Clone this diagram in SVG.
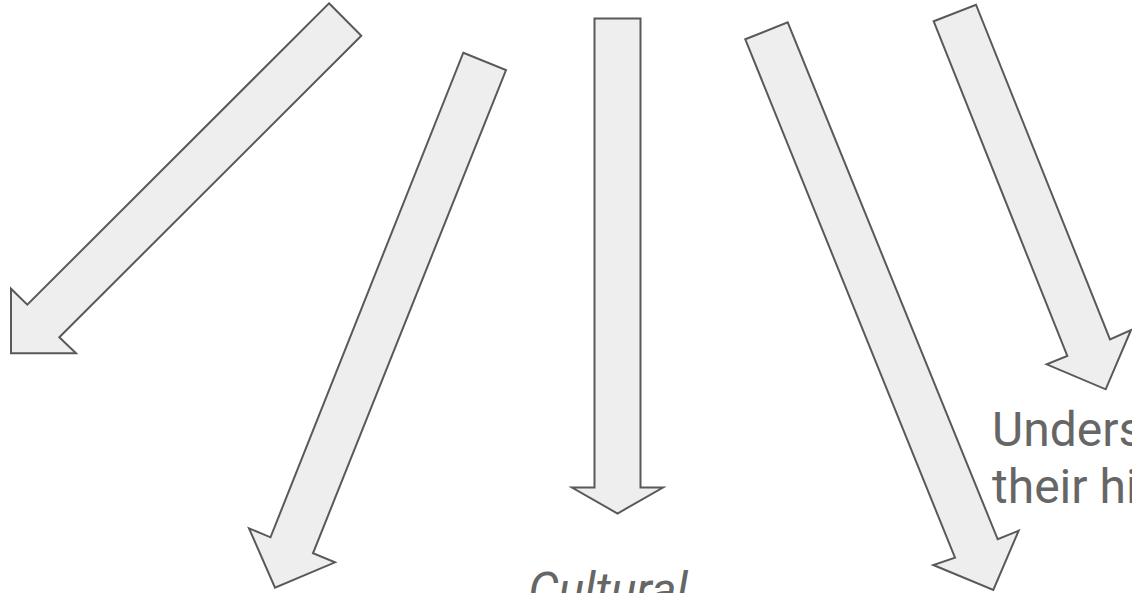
<svg xmlns="http://www.w3.org/2000/svg" width="1132" height="593" viewBox="0 0 1132 593">
<style>
.arrow{fill:#eeeeee;stroke:#595959;stroke-width:2;stroke-linejoin:miter}
.lbl{font-family:Roboto,"Liberation Sans",sans-serif;font-size:48px;fill:#666666}
</style>
<rect width="1132" height="593" fill="#ffffff"/>
<g id="connectors">
<g id="arrow1"><polygon class="arrow" points="329,3.3 361.3,35.7 59.3,337.3 76,353.3 11,353.3 11,288.7 27.3,304.7"/></g>
<g id="arrow2"><polygon class="arrow" points="463.3,52.7 506,70 313,553.3 335,562.3 275,587.7 249,528.3 270.5,537.3"/></g>
<g id="arrow3"><polygon class="arrow" points="594.5,18.5 640.5,18.5 640.5,487.5 663,487.5 617.5,513.5 572,487.5 594.5,487.5"/></g>
<g id="arrow4"><polygon class="arrow" points="745.3,39.3 787.7,22.3 997.7,539.3 1018.7,530.7 993.3,590 933.3,565 955,557.7"/></g>
<g id="arrow5"><polygon class="arrow" points="933.7,21.3 976,4.7 1110,339.3 1131,330 1105.7,389.3 1046.7,364.3 1067.3,356"/></g>
</g>
<g id="label-understand">
<text class="lbl" x="992" y="446">Unders</text>
<text class="lbl" x="992" y="503">their hi</text>
</g>
<g id="label-cultural">
<text class="lbl" x="608" y="606" text-anchor="middle" font-style="italic">Cultural</text>
</g>
</svg>
